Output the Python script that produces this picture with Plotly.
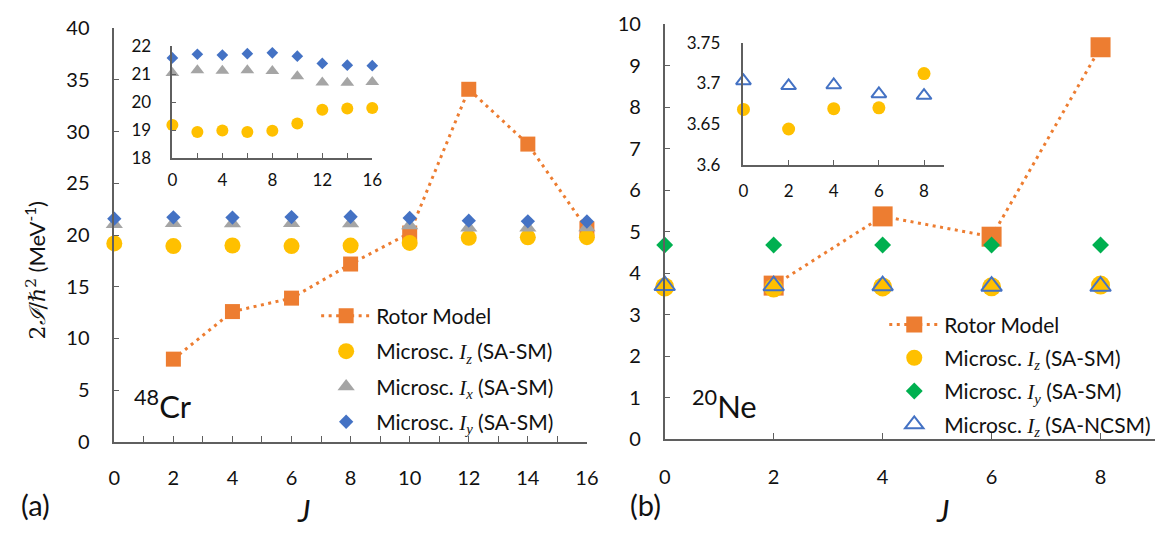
import plotly.graph_objects as go

W, H = 1169, 535

# ---------------- data ----------------
# (a) 48Cr
cr_J = [0, 2, 4, 6, 8, 10, 12, 14, 16]
cr_rotor_J = [2, 4, 6, 8, 10, 12, 14, 16]
cr_rotor = [8.0, 12.6, 13.9, 17.2, 20.2, 34.1, 28.8, 20.6]
cr_Iz = [19.19, 18.94, 18.99, 18.94, 18.98, 19.24, 19.73, 19.78, 19.80]
cr_Ix = [21.05, 21.15, 21.13, 21.15, 21.12, 20.93, 20.71, 20.70, 20.73]
cr_Iy = [21.59, 21.72, 21.69, 21.74, 21.77, 21.65, 21.39, 21.33, 21.31]

# (b) 20Ne
ne_J = [0, 2, 4, 6, 8]
ne_rotor_J = [2, 4, 6, 8]
ne_rotor = [3.70, 5.37, 4.88, 9.45]
ne_Iz = [3.668, 3.644, 3.669, 3.670, 3.712]
ne_Iy = [4.68, 4.68, 4.68, 4.68, 4.68]
ne_Iz_ncsm = [3.703, 3.697, 3.698, 3.687, 3.685]

# tick labels
cr_main_xticks = [0, 2, 4, 6, 8, 10, 12, 14, 16]
cr_inset_xticks = [0, 2, 4, 6, 8, 10, 12, 14, 16]
cr_inset_xlabels = ["0", "", "4", "", "8", "", "12", "", "16"]
ne_xticks = [0, 2, 4, 6, 8]
ne_inset_yticks = [3.6, 3.65, 3.7, 3.75]
ne_inset_ylabels = ["3.6", "3.65", "3.7", "3.75"]

# ---------------- style ----------------
ORANGE = "#ED7D31"
YELLOW = "#FFC000"
GRAY = "#A5A5A5"
BLUE = "#4472C4"
GREEN = "#00B050"
AXC = "#5F5F5F"
TXT = "#111111"
FONT = "Lato"


def px_x(p):
    return p / W


def px_y(p):
    return 1 - p / H


def I(sub):
    return ('<span style="font-family:Liberation Serif"><i>I<sub>' + sub +
            '</sub></i></span>')


fig = go.Figure()

# ---- panel (a) main ----
fig.add_trace(go.Scatter(
    x=cr_rotor_J, y=cr_rotor, mode="lines+markers", name="Rotor Model",
    line=dict(color=ORANGE, width=3, dash="3px,4.5px"),
    marker=dict(symbol="square", size=15, color=ORANGE),
    xaxis="x", yaxis="y", legend="legend", legendgroup="a1", cliponaxis=False))
fig.add_trace(go.Scatter(
    x=cr_J, y=cr_Iz, mode="markers", name="Microsc. " + I("z") + " (SA-SM)",
    marker=dict(symbol="circle", size=16, color=YELLOW),
    xaxis="x", yaxis="y", legend="legend", legendgroup="a2", cliponaxis=False))
fig.add_trace(go.Scatter(
    x=cr_J, y=cr_Ix, mode="markers", name="Microsc. " + I("x") + " (SA-SM)",
    marker=dict(symbol="triangle-up", size=15, color=GRAY),
    xaxis="x", yaxis="y", legend="legend", legendgroup="a3", cliponaxis=False))
fig.add_trace(go.Scatter(
    x=cr_J, y=cr_Iy, mode="markers", name="Microsc. " + I("y") + " (SA-SM)",
    marker=dict(symbol="diamond", size=11, color=BLUE),
    xaxis="x", yaxis="y", legend="legend", legendgroup="a4", cliponaxis=False))

# ---- panel (a) inset ----
fig.add_trace(go.Scatter(
    x=cr_J, y=cr_Iz, mode="markers", showlegend=False,
    marker=dict(symbol="circle", size=12, color=YELLOW),
    xaxis="x3", yaxis="y3", cliponaxis=False))
fig.add_trace(go.Scatter(
    x=cr_J, y=cr_Ix, mode="markers", showlegend=False,
    marker=dict(symbol="triangle-up", size=12, color=GRAY),
    xaxis="x3", yaxis="y3", cliponaxis=False))
fig.add_trace(go.Scatter(
    x=cr_J, y=cr_Iy, mode="markers", showlegend=False,
    marker=dict(symbol="diamond", size=9, color=BLUE),
    xaxis="x3", yaxis="y3", cliponaxis=False))

# ---- panel (b) main ----
fig.add_trace(go.Scatter(
    x=ne_rotor_J, y=ne_rotor, mode="lines+markers", name="Rotor Model",
    line=dict(color=ORANGE, width=3, dash="3px,4.5px"),
    marker=dict(symbol="square", size=20, color=ORANGE),
    xaxis="x2", yaxis="y2", legend="legend2", legendgroup="b1", cliponaxis=False))
fig.add_trace(go.Scatter(
    x=ne_J, y=ne_Iz, mode="markers", name="Microsc. " + I("z") + " (SA-SM)",
    marker=dict(symbol="circle", size=19, color=YELLOW),
    xaxis="x2", yaxis="y2", legend="legend2", legendgroup="b2", cliponaxis=False))
fig.add_trace(go.Scatter(
    x=ne_J, y=ne_Iy, mode="markers", name="Microsc. " + I("y") + " (SA-SM)",
    marker=dict(symbol="diamond", size=13, color=GREEN),
    xaxis="x2", yaxis="y2", legend="legend2", legendgroup="b3", cliponaxis=False))
fig.add_trace(go.Scatter(
    x=ne_J, y=ne_Iz_ncsm, mode="markers", name="Microsc. " + I("z") + " (SA-NCSM)",
    marker=dict(symbol="triangle-up-open", size=18, color=BLUE,
                line=dict(color=BLUE, width=2)),
    xaxis="x2", yaxis="y2", legend="legend2", legendgroup="b4", cliponaxis=False))

# ---- panel (b) inset ----
fig.add_trace(go.Scatter(
    x=ne_J, y=ne_Iz, mode="markers", showlegend=False,
    marker=dict(symbol="circle", size=13, color=YELLOW),
    xaxis="x4", yaxis="y4", cliponaxis=False))
fig.add_trace(go.Scatter(
    x=ne_J, y=ne_Iz_ncsm, mode="markers", showlegend=False,
    marker=dict(symbol="triangle-up-open", size=13, color=BLUE,
                line=dict(color=BLUE, width=2)),
    xaxis="x4", yaxis="y4", cliponaxis=False))

axis_common = dict(showline=True, linecolor=AXC, linewidth=1.5, showgrid=False,
                   zeroline=False, tickcolor=AXC, tickwidth=1.2,
                   tickfont=dict(family=FONT, size=20, color=TXT))
inset_font = dict(family=FONT, size=17, color=TXT)

fig.update_layout(
    width=W, height=H, margin=dict(l=0, r=0, t=0, b=0),
    paper_bgcolor="white", plot_bgcolor="rgba(0,0,0,0)",
    font=dict(family=FONT, color=TXT),
    xaxis=dict(domain=[px_x(110), px_x(590)], range=[0, 16], tickvals=cr_main_xticks,
               ticks="inside", ticklen=6, ticklabelstandoff=17,
               minor=dict(ticks="inside", dtick=1, ticklen=6, tickcolor=AXC),
               anchor="y", **axis_common),
    yaxis=dict(domain=[px_y(449), px_y(16)], range=[0, 40], dtick=5,
               ticks="inside", ticklen=5, ticklabelstandoff=19, anchor="x",
               **axis_common),
    xaxis2=dict(domain=[px_x(669), px_x(1167)], range=[0, 9], tickvals=ne_xticks,
                ticks="inside", ticklen=6, ticklabelstandoff=19, anchor="y2",
                **axis_common),
    yaxis2=dict(domain=[px_y(446), px_y(12)], range=[0, 10], dtick=1,
                ticks="inside", ticklen=6, ticklabelstandoff=18, anchor="x2",
                **axis_common),
    xaxis3=dict(domain=[px_x(169), px_x(372)], range=[0, 16], tickvals=cr_inset_xticks,
                ticktext=cr_inset_xlabels, ticks="inside", ticklen=5,
                ticklabelstandoff=6, anchor="y3",
                **{**axis_common, "tickfont": inset_font}),
    yaxis3=dict(domain=[px_y(152), px_y(35)], range=[18, 22], dtick=1,
                ticks="inside", ticklen=4, ticklabelstandoff=16, anchor="x3",
                **{**axis_common, "tickfont": inset_font}),
    xaxis4=dict(domain=[px_x(749), px_x(953)], range=[0, 8.9], tickvals=ne_xticks,
                ticks="inside", ticklen=5, ticklabelstandoff=10, anchor="y4",
                **{**axis_common, "tickfont": inset_font}),
    yaxis4=dict(domain=[px_y(159), px_y(31)], range=[3.6, 3.75],
                tickvals=ne_inset_yticks, ticktext=ne_inset_ylabels,
                ticks="", ticklabelstandoff=18, anchor="x4",
                **{**axis_common, "tickfont": inset_font}),
    legend=dict(x=px_x(315), y=px_y(296), xanchor="left", yanchor="top",
                bgcolor="rgba(0,0,0,0)", font=dict(family=FONT, size=21, color=TXT),
                tracegroupgap=5, itemwidth=50, traceorder="grouped"),
    legend2=dict(x=px_x(892), y=px_y(305), xanchor="left", yanchor="top",
                 bgcolor="rgba(0,0,0,0)", font=dict(family=FONT, size=21, color=TXT),
                 tracegroupgap=3, itemwidth=50, traceorder="grouped"),
    showlegend=True,
)

ann = [
    dict(text="(a)", x=px_x(30), y=px_y(515), font=dict(size=29)),
    dict(text="(b)", x=px_x(650), y=px_y(515), font=dict(size=29)),
    dict(text="<i>J</i>", x=px_x(302), y=px_y(520), font=dict(size=31)),
    dict(text="<i>J</i>", x=px_x(951), y=px_y(520), font=dict(size=31)),
    dict(text="<sup>48</sup>Cr", x=px_x(128), y=px_y(410), xanchor="left",
         font=dict(size=31)),
    dict(text="<sup>20</sup>Ne", x=px_x(695), y=px_y(410), xanchor="left",
         font=dict(size=31)),
    dict(text='<span style="font-family:DejaVu Serif">2<i>ℐ</i>/<i>ℏ</i><sup>2</sup></span> (MeV<sup>-1</sup>)',
         x=px_x(30), y=px_y(270), textangle=-90, font=dict(size=22)),
]
for a in ann:
    a.setdefault("xanchor", "center")
    a.update(xref="paper", yref="paper", showarrow=False, yanchor="middle")
    a["font"] = dict(family=FONT, color=TXT, **a["font"])
    fig.add_annotation(**a)

fig.write_html("out.html")
